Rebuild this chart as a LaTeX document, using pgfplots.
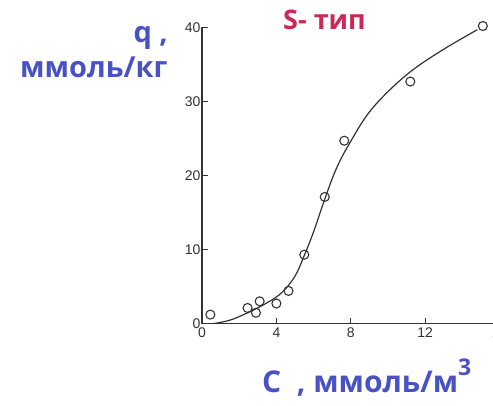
\documentclass[border=0pt]{standalone}
\usepackage{pgfplots}
\pgfplotsset{compat=1.18}
\usepackage{fontspec}
\setmainfont{Open Sans}
\newfontfamily\tickfont{Liberation Sans}
\definecolor{lblblue}{RGB}{72,82,196}
\definecolor{crim}{RGB}{205,40,85}
\definecolor{ink}{RGB}{50,50,50}
\begin{document}
\begin{tikzpicture}[x=1pt,y=1pt]
\useasboundingbox (0,0) rectangle (493,405);
\clip (0,0) rectangle (493,405);
\begin{axis}[
  at={(202pt,81.5pt)}, anchor=south west,
  x=18.6pt, y=7.4pt,
  xmin=0, xmax=16.5, ymin=0, ymax=40,
  axis lines=left,
  axis line style={-, line width=1.3pt, ink},
  tick align=inside,
  major tick length=6pt,
  tick style={line width=1pt, ink},
  xtick={0,4,8,12,16}, ytick={0,10,20,30,40},
  tick label style={font=\tickfont\fontsize{14}{14}\selectfont, text=ink},
  /pgf/number format/assume math mode=true,
  yticklabel style={xshift=2pt},
  xticklabel style={yshift=-1pt},
  clip=false,
]
\addplot[ink, line width=1.2pt, smooth, tension=0.6] coordinates {
 (0.65,0) (1.5,0.45) (2.5,1.5) (3.5,2.8) (4.3,4.2) (5,6.4) (5.5,9.2)
 (6,12.4) (6.6,16.8) (7.2,20.8) (7.9,24.2) (9.1,28.9) (10.9,33.4)
 (12.7,36.6) (14.8,39.7)
};
\addplot[only marks, mark=o, mark size=4.5pt, ink, mark options={line width=1.1pt}] coordinates {
 (0.45,1.2) (2.45,2.1) (2.9,1.45) (3.1,3.0) (4.0,2.7) (4.65,4.4)
 (5.5,9.3) (6.6,17.1) (7.65,24.7) (11.2,32.7) (15.1,40.2)
};
\end{axis}
\node[anchor=base east, inner sep=0pt, text=lblblue, font=\bfseries\fontsize{29}{29}\selectfont] at (168,362) {q ,};
\node[anchor=base west, inner sep=0pt, text=lblblue, font=\bfseries\fontsize{29}{29}\selectfont] at (20,327) {ммоль/кг};
\node[anchor=base west, inner sep=0pt, text=crim, font=\bfseries\fontsize{27}{27}\selectfont] at (283,375) {S- тип};
\node[anchor=base west, inner sep=0pt, text=lblblue, font=\bfseries\fontsize{30}{30}\selectfont] at (262,13) {C\ \ , ммоль/м\raisebox{17pt}{\fontsize{23}{23}\selectfont 3}};
\end{tikzpicture}
\end{document}
